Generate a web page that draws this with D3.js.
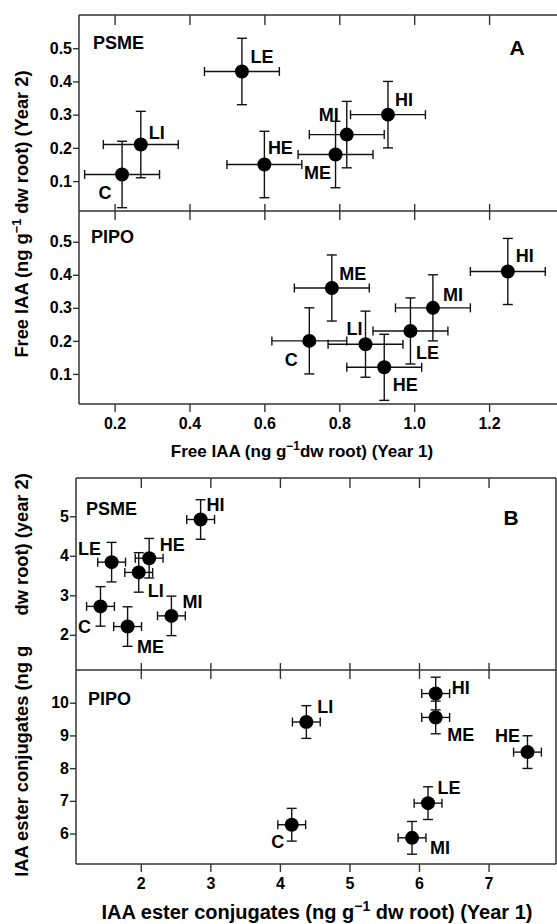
<!DOCTYPE html>
<html><head><meta charset="utf-8">
<script src="https://cdn.jsdelivr.net/npm/d3@7"></script>
<style>
html,body{margin:0;padding:0;background:#fff;}
svg text{font-family:"Liberation Sans",Arial,Helvetica,sans-serif;font-weight:bold;fill:#000;}
</style></head>
<body><svg id="c" width="557" height="924"></svg>
<script>
// ---------- DATA ----------
const treatments = ["C","LI","LE","HE","ME","MI","HI"];
// Panel A: free IAA (ng g-1 dw root)
const aPsmeYear1 = [0.22, 0.27, 0.54, 0.60, 0.79, 0.82, 0.93];
const aPsmeYear2 = [0.12, 0.21, 0.43, 0.15, 0.18, 0.24, 0.30];
const aPipoYear1 = [0.72, 0.87, 0.99, 0.92, 0.78, 1.05, 1.25];
const aPipoYear2 = [0.20, 0.19, 0.23, 0.12, 0.36, 0.30, 0.41];
const aErrX = [0.1, 0.1, 0.1, 0.1, 0.1, 0.1, 0.1];
const aErrY = [0.1, 0.1, 0.1, 0.1, 0.1, 0.1, 0.1];
// Panel B: IAA ester conjugates (ng g-1 dw root)
const bPsmeYear1 = [1.42, 1.97, 1.58, 2.12, 1.81, 2.44, 2.86];
const bPsmeYear2 = [2.72, 3.58, 3.84, 3.94, 2.21, 2.48, 4.92];
const bPipoYear1 = [4.17, 4.38, 6.13, 7.56, 6.24, 5.90, 6.24];
const bPipoYear2 = [6.27, 9.41, 6.93, 8.49, 9.55, 5.87, 10.28];
const bErrX = [0.2, 0.2, 0.2, 0.2, 0.2, 0.2, 0.2];
const bErrY = [0.5, 0.5, 0.5, 0.5, 0.5, 0.5, 0.5];
// Tick values / labels
const aXTicks = [0.2, 0.4, 0.6, 0.8, 1.0, 1.2];
const aXTickLabels = ["0.2","0.4","0.6","0.8","1.0","1.2"];
const aYTicks = [0.1, 0.2, 0.3, 0.4, 0.5];
const aYTickLabels = ["0.1","0.2","0.3","0.4","0.5"];
const bXTicks = [2, 3, 4, 5, 6, 7];
const bYTicksTop = [2, 3, 4, 5];
const bYTicksBottom = [6, 7, 8, 9, 10];

// ---------- LAYOUT (label offsets in px, style only) ----------
const lblA1 = {C:[-17,19],LI:[16,-12],LE:[20,-14],HE:[16,-16],ME:[-18,18],MI:[-18,-20],HI:[16,-15]};
const lblA2 = {C:[-18,19],LI:[-11,-15],LE:[17,22],HE:[21,18],ME:[21,-14],MI:[20,-13],HI:[17,-15]};
const lblB1 = {C:[-16,21],LI:[17,19],LE:[-22,-13],HE:[23,-13],ME:[23,20],MI:[21,-14],HI:[15,-14]};
const lblB2 = {C:[-14,17],LI:[19,-15],LE:[21,-15],HE:[-20,-16],ME:[25,18],MI:[28,10],HI:[25,-6]};

const svg = d3.select("#c");
const frameColor = "#333";
const FS = 16;
const LFS = 18;

function panel(cfg){
  const g = svg.append("g");
  const [x0,x1] = cfg.x.range();
  const top = cfg.yTop.range()[1], mid = cfg.yTop.range()[0], bot = cfg.yBot.range()[0];
  // frame
  g.append("line").attr("x1",x0).attr("x2",x0).attr("y1",top).attr("y2",bot);
  g.append("line").attr("x1",x0).attr("x2",x1).attr("y1",top).attr("y2",top);
  g.append("line").attr("x1",x0).attr("x2",x1).attr("y1",mid).attr("y2",mid);
  g.append("line").attr("x1",x0).attr("x2",x1).attr("y1",bot).attr("y2",bot);
  if(cfg.rightEdge) g.append("line").attr("x1",x1).attr("x2",x1).attr("y1",top).attr("y2",bot);
  g.selectAll("line").attr("stroke",frameColor).attr("stroke-width",1.5);

  const fmtX = cfg.xFmt;
  const tTop = g.append("g").attr("transform",`translate(0,${top})`)
    .call(d3.axisBottom(cfg.x).tickValues(cfg.xTicks).tickSize(10).tickFormat(""));
  const tMid1 = g.append("g").attr("transform",`translate(0,${mid})`)
    .call(d3.axisBottom(cfg.x).tickValues(cfg.xTicks).tickSize(9).tickFormat(""));
  const tMid2 = g.append("g").attr("transform",`translate(0,${mid})`)
    .call(d3.axisTop(cfg.x).tickValues(cfg.xTicks).tickSize(7).tickFormat(""));
  const tBot = g.append("g").attr("transform",`translate(0,${bot})`)
    .call(d3.axisBottom(cfg.x).tickValues(cfg.xTicks).tickSize(8).tickPadding(6).tickFormat(fmtX));
  const yT = g.append("g").attr("transform",`translate(${x0},0)`)
    .call(d3.axisLeft(cfg.yTop).tickValues(cfg.yTicksTop).tickSize(6).tickPadding(1).tickFormat(cfg.yFmtTop));
  const yB = g.append("g").attr("transform",`translate(${x0},0)`)
    .call(d3.axisLeft(cfg.yBot).tickValues(cfg.yTicksBot).tickSize(6).tickPadding(1).tickFormat(cfg.yFmtBot));
  [tTop,tMid1,tMid2,tBot,yT,yB].forEach(a=>{
    a.select(".domain").remove();
    a.selectAll(".tick line").attr("stroke",frameColor).attr("stroke-width",1.4);
    a.selectAll("text").attr("font-size",FS).attr("font-family",null).attr("fill","#000");
  });

  cfg.series.forEach(s=>{
    const sg = g.append("g");
    treatments.forEach((t,i)=>{
      const cx = cfg.x(s.xs[i]), cy = s.y(s.ys[i]);
      const xl = cfg.x(s.xs[i]-s.ex[i]), xr = cfg.x(s.xs[i]+s.ex[i]);
      const yt = s.y(s.ys[i]+s.ey[i]), yb = s.y(s.ys[i]-s.ey[i]);
      const capH = 4.5, capV = 5;
      const eg = sg.append("g").attr("stroke","#111").attr("stroke-width",1.4);
      eg.append("line").attr("x1",xl).attr("x2",xr).attr("y1",cy).attr("y2",cy);
      eg.append("line").attr("x1",xl).attr("x2",xl).attr("y1",cy-capH).attr("y2",cy+capH);
      eg.append("line").attr("x1",xr).attr("x2",xr).attr("y1",cy-capH).attr("y2",cy+capH);
      eg.append("line").attr("x1",cx).attr("x2",cx).attr("y1",yt).attr("y2",yb);
      eg.append("line").attr("x1",cx-capV).attr("x2",cx+capV).attr("y1",yt).attr("y2",yt);
      eg.append("line").attr("x1",cx-capV).attr("x2",cx+capV).attr("y1",yb).attr("y2",yb);
      sg.append("circle").attr("cx",cx).attr("cy",cy).attr("r",7).attr("fill","#000");
      const off = s.lbl[t];
      sg.append("text").attr("x",cx+off[0]).attr("y",cy+off[1]).attr("text-anchor","middle")
        .attr("dominant-baseline","central").attr("font-size",LFS).text(t);
    });
    g.append("text").attr("x",s.nameX).attr("y",s.nameY).attr("font-size",LFS).text(s.name);
  });
  g.append("text").attr("x",cfg.letter[0]).attr("y",cfg.letter[1]).attr("text-anchor","middle")
    .attr("dominant-baseline","central").attr("font-size",21).text(cfg.letter[2]);
}

// Panel A
const xA = d3.scaleLinear().domain([0.105, 1.4]).range([79, 564]);
const yA1 = d3.scaleLinear().domain([0.01, 0.6]).range([211, 15]);
const yA2 = d3.scaleLinear().domain([0.009, 0.593]).range([404, 211]);
panel({x:xA, yTop:yA1, yBot:yA2, xTicks:aXTicks, yTicksTop:aYTicks, yTicksBot:aYTicks,
  xFmt:(d)=>aXTickLabels[aXTicks.indexOf(d)], yFmtTop:(d)=>aYTickLabels[aYTicks.indexOf(d)], yFmtBot:(d)=>aYTickLabels[aYTicks.indexOf(d)],
  rightEdge:false, letter:[517,47,"A"],
  series:[
    {name:"PSME", nameX:93, nameY:49, xs:aPsmeYear1, ys:aPsmeYear2, ex:aErrX, ey:aErrY, y:yA1, lbl:lblA1},
    {name:"PIPO", nameX:91, nameY:243, xs:aPipoYear1, ys:aPipoYear2, ex:aErrX, ey:aErrY, y:yA2, lbl:lblA2}
  ]});

// Panel B
const xB = d3.scaleLinear().domain([1.068, 7.97]).range([76, 556]);
const yB1 = d3.scaleLinear().domain([1.11, 5.97]).range([670, 478]);
const yB2 = d3.scaleLinear().domain([5.07, 11.0]).range([864, 670]);
panel({x:xB, yTop:yB1, yBot:yB2, xTicks:bXTicks, yTicksTop:bYTicksTop, yTicksBot:bYTicksBottom,
  xFmt:d3.format("d"), yFmtTop:d3.format("d"), yFmtBot:d3.format("d"),
  rightEdge:true, letter:[511,517,"B"],
  series:[
    {name:"PSME", nameX:86, nameY:515, xs:bPsmeYear1, ys:bPsmeYear2, ex:bErrX, ey:bErrY, y:yB1, lbl:lblB1},
    {name:"PIPO", nameX:88, nameY:705, xs:bPipoYear1, ys:bPipoYear2, ex:bErrX, ey:bErrY, y:yB2, lbl:lblB2}
  ]});

// Axis titles
function supTitle(sel, before, after, size, sup){
  sel.append("tspan").text(before);
  sel.append("tspan").attr("dy",-size*0.4).attr("font-size",size*0.7).text(sup);
  sel.append("tspan").attr("dy",size*0.4).text(after);
}
const tA = svg.append("text").attr("x",302).attr("y",457).attr("text-anchor","middle").attr("font-size",17);
supTitle(tA, "Free IAA (ng g", "dw root) (Year 1)", 17, "\u22121");
const tAy = svg.append("text").attr("transform","translate(28,214) rotate(-90)").attr("text-anchor","middle").attr("font-size",18.3);
supTitle(tAy, "Free IAA (ng g", " dw root) (Year 2)", 18.3, "\u22121");
const tB = svg.append("text").attr("x",317).attr("y",919).attr("text-anchor","middle").attr("font-size",20);
supTitle(tB, "IAA ester conjugates (ng g", " dw root) (Year 1)", 20, "\u22121");
const tBy = svg.append("text").attr("transform","translate(28,675) rotate(-90)").attr("text-anchor","middle").attr("font-size",18.3)
  .style("white-space","pre");
tBy.text("IAA ester conjugates (ng g      dw root) (year 2)");
</script></body></html>
